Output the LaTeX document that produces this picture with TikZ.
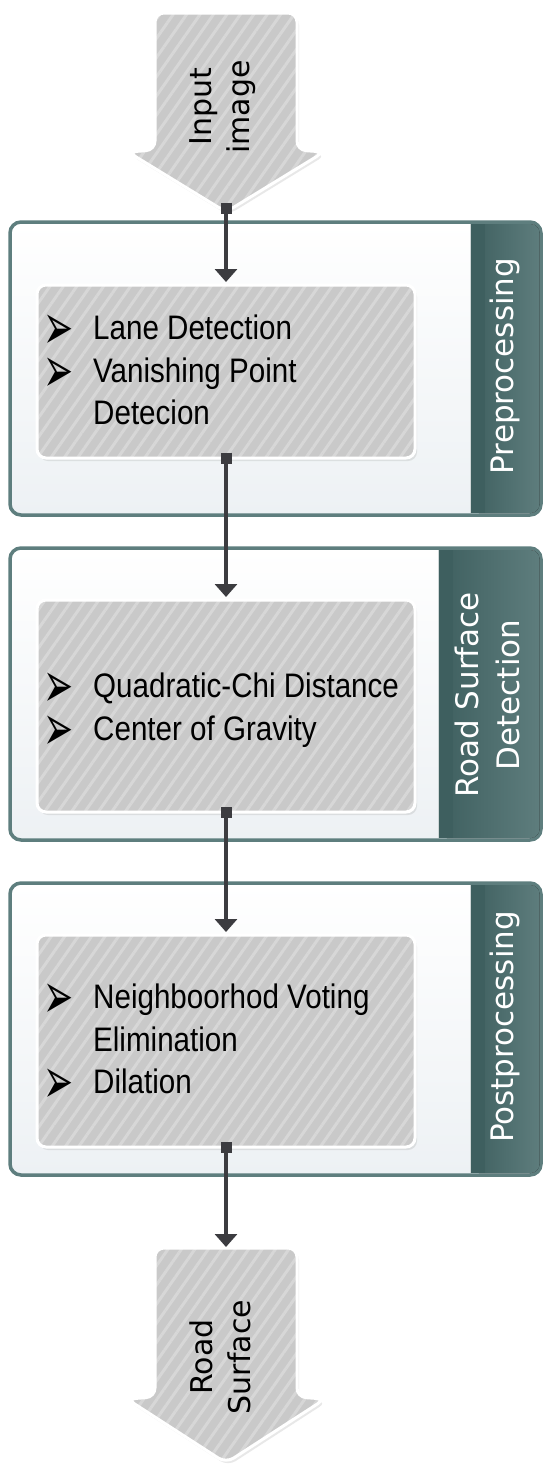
\documentclass[tikz,border=0pt]{standalone}
\usepackage{fontspec}
\usetikzlibrary{arrows.meta,patterns.meta,shadows}
\newfontfamily\bodyfont[FakeStretch=0.87]{Liberation Sans}
\newfontfamily\labfont{DejaVu Sans}
\newfontfamily\symfont{DejaVu Sans}
\definecolor{boxgray}{HTML}{C9C9C9}
\definecolor{stripe}{HTML}{D7D7D7}
\definecolor{panelline}{HTML}{5E7E7E}
\definecolor{panelbot}{HTML}{EDF1F4}
\definecolor{tableft}{HTML}{3E5F5F}
\definecolor{tabright}{HTML}{5E7D7D}
\definecolor{connc}{HTML}{3C3C40}
\newcommand{\bulletmark}{\smash{\scalebox{1}[1.8]{➢}}}
\begin{document}
\begin{tikzpicture}[x=1pt,y=-1pt,
  hatched/.style={drop shadow={opacity=0.18,shadow xshift=2pt,shadow yshift=-3pt},
    preaction={fill=boxgray},
    pattern={Lines[angle=55,distance=11pt,line width=3pt]}, pattern color=stripe,
    draw=white, line width=3pt},
  itembox/.style={hatched, rounded corners=9pt, minimum width=378pt, inner sep=0pt, outer sep=0pt},
  bigarrow/.style={hatched, rounded corners=9pt},
  panel/.style={draw=panelline, line width=3.5pt, rounded corners=11pt,
    top color=white, bottom color=panelbot, minimum width=531pt, inner sep=0pt, outer sep=0pt},
  tabfill/.style={left color=tableft, right color=tabright},
  tablabel/.style={text=white, rotate=90, align=center, font=\labfont\fontsize{31}{41}\selectfont},
  arrowlabel/.style={text=black, rotate=90, align=center, font=\labfont\fontsize{30}{38}\selectfont},
  bul/.style={anchor=base west, inner sep=0pt, font=\symfont\fontsize{36}{36}\selectfont},
  itemtext/.style={anchor=base west, inner sep=0pt, font=\bodyfont\fontsize{34}{42}\selectfont},
  conn/.style={draw=connc, line width=3.5pt,
    {Square[length=11pt,width=11pt]}-{Triangle[width=22pt,length=13pt]}}
]
\useasboundingbox (0,0) rectangle (547,1470);

% ---------- input arrow ----------
\path[bigarrow] (155,13) -- (297,13) -- (297,150) -- (324,152) -- (226,212) -- (128,152) -- (155,150) -- cycle;
\coordinate (intip) at (226,211);
\node[arrowlabel] (inlabel) at (223,107) {Input\\image};

% ---------- panel 1 ----------
\node[panel, minimum height=293pt] (p1) at (275.5,368.5) {};
\fill[tabfill, rounded corners=9pt] (470,224) rectangle (539.5,513);
\fill[tableft] (470,224) rectangle (485,513);
\draw[white!75!tableft, line width=1pt] (470,224) -- (470,513);
\node[tablabel] (t1) at (505,366) {Preprocessing};
\node[itembox, minimum height=173pt] (b1) at (226,371.5) {};
\node[bul] (b1u1) at (43,349) {\bulletmark};
\node[itemtext] (b1t1) at (93,339) {Lane Detection};
\node[bul] (b1u2) at (43,392) {\bulletmark};
\node[itemtext] (b1t2) at (93,382) {Vanishing Point};
\node[itemtext] (b1t3) at (93,424) {Detecion};

% ---------- panel 2 ----------
\node[panel, minimum height=292pt] (p2) at (275.5,694) {};
\fill[tabfill, rounded corners=9pt] (438,550) rectangle (539.5,838);
\fill[tableft] (438,550) rectangle (453,838);
\draw[white!75!tableft, line width=1pt] (438,550) -- (438,838);
\node[tablabel] (t2) at (487,695) {Road Surface\\Detection};
\node[itembox, minimum height=212pt] (b2) at (226,706) {};
\node[bul] (b2u1) at (43,707) {\bulletmark};
\node[itemtext] (b2t1) at (93,697) {Quadratic-Chi Distance};
\node[bul] (b2u2) at (43,750) {\bulletmark};
\node[itemtext] (b2t2) at (93,740) {Center of Gravity};

% ---------- panel 3 ----------
\node[panel, minimum height=292pt] (p3) at (275.5,1029) {};
\fill[tabfill, rounded corners=9pt] (470,885) rectangle (539.5,1173);
\fill[tableft] (470,885) rectangle (485,1173);
\draw[white!75!tableft, line width=1pt] (470,885) -- (470,1173);
\node[tablabel] (t3) at (505,1027) {Postprocessing};
\node[itembox, minimum height=212pt] (b3) at (226,1041) {};
\node[bul] (b3u1) at (43,1018) {\bulletmark};
\node[itemtext] (b3t1) at (93,1008) {Neighboorhod Voting};
\node[itemtext] (b3t2) at (93,1051) {Elimination};
\node[bul] (b3u2) at (43,1103) {\bulletmark};
\node[itemtext] (b3t3) at (93,1093) {Dilation};

% ---------- output arrow ----------
\path[bigarrow] (155,1248) -- (297,1248) -- (297,1397) -- (325,1399) -- (226,1463) -- (127,1399) -- (155,1397) -- cycle;
\coordinate (outtop) at (226,1249);
\node[arrowlabel] (outlabel) at (220,1357) {Road\\Surface};

% ---------- connectors ----------
\draw[conn] ([yshift=8pt]intip) -- ([yshift=3pt]b1.north);
\draw[conn] ([yshift=5pt]b1.south) -- ([yshift=3pt]b2.north);
\draw[conn] ([yshift=5pt]b2.south) -- ([yshift=3pt]b3.north);
\draw[conn] ([yshift=5pt]b3.south) -- ([yshift=2pt]outtop);
\end{tikzpicture}
\end{document}
